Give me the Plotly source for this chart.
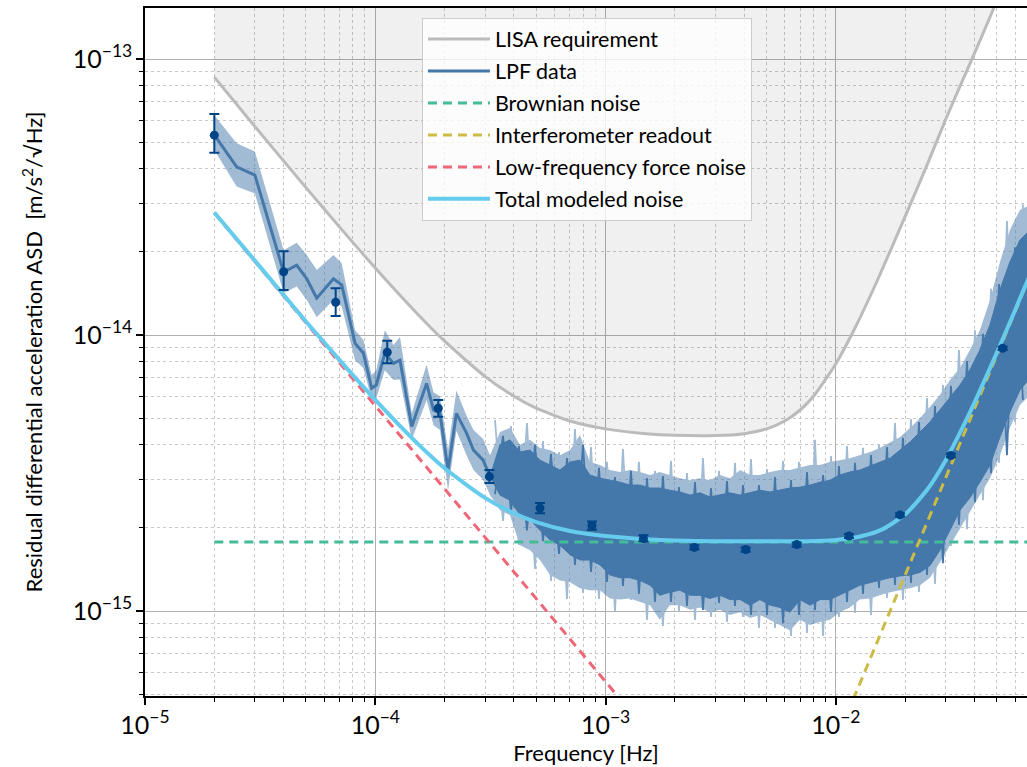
import plotly.graph_objects as go

U = 1e-15  # values below are given in units of 1e-15 m s^-2 Hz^-1/2

# ---------------- LISA requirement ----------------
lisa_f = [2e-5, 3e-5, 5e-5, 7e-5, 1e-4, 1.5e-4, 2e-4, 3e-4, 4e-4, 5e-4, 7e-4, 1e-3, 1.5e-3,
          2e-3, 3e-3, 4e-3, 5e-3, 6e-3, 7e-3, 8e-3, 1e-2, 1.2e-2, 1.5e-2, 2e-2, 2.5e-2,
          3e-2, 3.5e-2, 4e-2, 4.5e-2, 5e-2, 5.5e-2]
lisa_asd = [86.0, 57.0, 34.2, 24.6, 17.5, 12.1, 9.5, 7.07, 6.0, 5.43, 4.88, 4.57, 4.39,
            4.33, 4.32, 4.39, 4.57, 4.88, 5.35, 6.0, 7.87, 10.45, 15.5, 26.9, 41.7,
            60.5, 81.4, 105.0, 132.0, 163.0, 200.0]

# ---------------- LPF data, low-frequency part ----------------
low_f = [2.0e-5, 2.5e-5, 3.0e-5, 4.0e-5, 4.56e-5, 5.04e-5, 5.57e-5, 6.58e-5, 7.15e-5,
         8.17e-5, 8.88e-5, 9.65e-5, 1.01e-4, 1.10e-4, 1.20e-4, 1.28e-4, 1.44e-4, 1.67e-4,
         1.79e-4, 1.91e-4, 2.07e-4, 2.25e-4, 2.49e-4, 2.67e-4, 2.94e-4, 3.15e-4]
low_asd = [53.1, 40.7, 38.0, 16.9, 17.9, 16.0, 13.6, 16.0, 15.2, 9.33, 8.59, 6.41, 6.59,
           8.59, 7.89, 8.11, 4.66, 6.68, 5.35, 5.20, 3.24, 5.20, 4.41, 3.83, 3.52, 3.07]
low_up = [62.6, 49.5, 46.2, 20.3, 21.6, 19.5, 17.2, 19.5, 18.2, 10.4, 9.6, 7.16, 7.46,
          10.4, 9.2, 9.84, 5.21, 7.8, 6.21, 6.0, 3.83, 6.3, 5.1, 4.53, 4.2, 3.67]
low_dn = [46.8, 34.5, 32.6, 14.2, 15.0, 13.4, 11.6, 13.4, 12.7, 8.11, 7.59, 5.81, 5.9,
          7.46, 6.87, 6.9, 4.17, 5.81, 4.71, 4.53, 2.74, 4.5, 3.67, 3.24, 2.99, 2.63]

# ---------------- LPF data, dense high-frequency part (envelopes) ----------------
mid_f = [3.48e-4, 3.84e-4, 4.25e-4, 4.70e-4, 5.19e-4, 5.74e-4, 6.34e-4, 7.01e-4, 7.74e-4,
         8.55e-4, 9.45e-4, 1.045e-3, 1.155e-3, 1.276e-3, 1.41e-3, 1.56e-3, 1.72e-3, 1.90e-3,
         2.10e-3, 2.33e-3, 2.57e-3, 2.84e-3, 3.14e-3, 3.47e-3, 3.84e-3, 4.24e-3, 4.68e-3,
         5.18e-3, 5.72e-3, 6.32e-3, 6.98e-3, 7.72e-3, 8.53e-3, 9.42e-3, 1.04e-2, 1.15e-2,
         1.27e-2, 1.41e-2, 1.55e-2, 1.72e-2, 1.90e-2, 2.10e-2, 2.32e-2, 2.56e-2, 2.83e-2,
         3.13e-2, 3.46e-2, 3.82e-2, 4.22e-2, 4.67e-2, 5.16e-2, 5.70e-2, 6.30e-2, 6.96e-2]
dark_hi = [4.00, 4.17, 3.77, 3.83, 3.52, 3.38, 3.24, 3.47, 3.52, 3.11, 3.03, 2.98, 2.93, 2.86,
           2.86, 2.79, 2.79, 2.74, 2.70, 2.63, 2.68, 2.59, 2.63, 2.68, 2.63, 2.68, 2.74, 2.70,
           2.74, 2.79, 2.81, 2.86, 2.93, 2.98, 3.11, 3.19, 3.24, 3.35, 3.47, 3.58, 3.83, 4.10,
           4.45, 4.84, 5.35, 5.96, 6.59, 7.47, 8.83, 10.9, 14.6, 18.4, 22.1, 24.0]
dark_lo = [2.63, 2.52, 2.23, 2.14, 1.96, 1.81, 1.73, 1.60, 1.53, 1.53, 1.47, 1.35, 1.32, 1.32,
           1.29, 1.24, 1.14, 1.17, 1.19, 1.14, 1.14, 1.11, 1.14, 1.10, 1.10, 1.05, 1.10, 1.05,
           1.03, 0.99, 1.10, 1.05, 1.10, 1.10, 1.14, 1.19, 1.24, 1.27, 1.29, 1.32, 1.34, 1.35,
           1.38, 1.46, 1.66, 1.96, 2.32, 2.57, 2.93, 3.38, 4.27, 5.26, 6.32, 6.99]
light_hi = [4.45, 4.60, 4.00, 4.17, 3.90, 3.83, 3.67, 3.83, 4.34, 3.47, 3.38, 3.24, 3.19, 3.24,
            3.19, 3.11, 3.19, 3.11, 3.03, 2.98, 3.03, 2.98, 3.11, 3.03, 3.24, 3.11, 3.11, 3.19,
            3.24, 3.24, 3.30, 3.38, 3.38, 3.47, 3.52, 3.58, 3.67, 3.77, 3.90, 4.10, 4.27, 4.60,
            5.00, 5.48, 6.06, 6.87, 7.59, 8.83, 10.4, 13.4, 18.4, 24.0, 28.4, 29.6]
light_lo = [2.32, 2.23, 1.73, 1.66, 1.53, 1.35, 1.29, 1.27, 1.21, 1.19, 1.19, 1.11, 1.10, 1.11,
            1.08, 1.05, 0.93, 1.05, 1.05, 1.01, 1.03, 0.99, 1.01, 0.967, 0.99, 0.943, 0.967,
            0.93, 0.89, 0.85, 0.93, 0.89, 0.912, 0.93, 0.99, 1.03, 1.10, 1.11, 1.14, 1.17, 1.19,
            1.21, 1.24, 1.32, 1.50, 1.73, 2.00, 2.28, 2.63, 3.03, 3.67, 4.60, 5.58, 6.06]

# individual spikes of the dense spectrum (alternating peaks and dips)
spk_f = [3.31e-4, 3.585e-4, 3.884e-4, 4.207e-4, 4.557e-4, 4.937e-4, 5.348e-4, 5.793e-4,
         6.276e-4, 6.799e-4, 7.365e-4, 7.978e-4, 8.643e-4, 9.362e-4, 1.014e-3, 1.099e-3,
         1.190e-3, 1.289e-3, 1.396e-3, 1.513e-3, 1.639e-3, 1.775e-3, 1.923e-3, 2.083e-3,
         2.257e-3, 2.445e-3, 2.648e-3, 2.869e-3, 3.108e-3, 3.367e-3, 3.647e-3, 3.951e-3,
         4.280e-3, 4.636e-3, 5.023e-3, 5.441e-3, 5.894e-3, 6.385e-3, 6.917e-3, 7.493e-3,
         8.117e-3, 8.793e-3, 9.525e-3, 1.0316e-2, 1.1177e-2, 1.2106e-2, 1.3115e-2, 1.4208e-2,
         1.539e-2, 1.667e-2, 1.806e-2, 1.956e-2, 2.119e-2, 2.296e-2, 2.487e-2, 2.694e-2,
         2.918e-2, 3.161e-2, 3.424e-2, 3.710e-2, 4.019e-2, 4.354e-2, 4.716e-2, 5.109e-2,
         5.534e-2, 5.995e-2, 6.494e-2]
spk_light = [4.92, 2.12, 4.68, 1.735, 4.80, 1.42, 4.13, 1.285, 3.77, 1.105, 4.56, 1.162, 3.93,
             1.105, 3.47, 1.00, 3.86, 1.096, 3.47, 0.928, 3.22, 0.882, 3.50, 0.992, 3.16,
             0.928, 3.58, 0.951, 3.22, 0.912, 3.44, 0.951, 3.55, 0.868, 3.27, 0.868, 3.50,
             0.812, 3.47, 0.832, 4.17, 0.812, 3.64, 0.951, 3.96, 0.983, 3.90, 0.967, 4.00,
             1.115, 4.80, 1.096, 4.96, 1.172, 5.91, 1.252, 6.59, 1.72, 8.83, 1.98, 10.4, 2.52,
             14.7, 3.44, 25.9, 4.84, 29.8]
spk_dark = [2.65, 4.31, 2.30, 3.96, 1.96, 4.00, 1.79, 3.71, 1.61, 3.58, 1.47, 4.00, 1.385,
            3.30, 1.274, 3.06, 1.232, 3.22, 1.152, 3.03, 1.078, 3.08, 1.078, 2.81, 1.043, 2.93,
            1.008, 2.79, 1.069, 2.96, 1.043, 2.86, 0.967, 2.86, 0.967, 3.06, 0.905, 2.98,
            0.967, 3.19, 1.008, 3.11, 0.992, 3.35, 1.078, 3.44, 1.152, 3.67, 1.211, 3.93,
            1.242, 4.24, 1.263, 4.84, 1.35, 5.53, 1.49, 6.54, 2.05, 8.05, 2.48, 10.1, 3.16,
            15.3, 3.67, 20.8, 5.81]

# ---------------- binned points with error bars ----------------
eb_f = [2.0e-5, 4.0e-5, 6.73e-5, 1.127e-4, 1.877e-4, 3.13e-4, 5.19e-4, 8.73e-4, 1.46e-3,
        2.43e-3, 4.06e-3, 6.76e-3, 1.14e-2, 1.90e-2, 3.16e-2, 5.30e-2]
eb_asd = [53.0, 16.96, 13.14, 8.66, 5.43, 3.07, 2.36, 2.04, 1.83, 1.70, 1.67, 1.74, 1.87,
          2.23, 3.66, 8.95]
eb_hi = [63.2, 20.1, 14.77, 9.54, 5.81, 3.24, 2.46, 2.11, 1.88, 1.73, 1.70, 1.77, 1.90,
         2.26, 3.71, 9.07]
eb_lo = [45.8, 14.56, 11.72, 7.90, 5.06, 2.91, 2.26, 1.97, 1.79, 1.67, 1.64, 1.71, 1.84,
         2.20, 3.61, 8.83]

# ---------------- noise model ----------------
brown_f = [2e-5, 7e-2]
brown_asd = [1.78, 1.78]
readout_f = [1.0e-2, 7e-2]
readout_asd = [0.338, 16.55]
lff_f = [2e-5, 1.2e-3]
lff_asd = [27.7, 0.462]
model_f = [2e-5, 3e-5, 5e-5, 7e-5, 1e-4, 1.5e-4, 2e-4, 3e-4, 4e-4, 5e-4, 7e-4, 1e-3, 1.5e-3,
           2e-3, 3e-3, 5e-3, 7e-3, 1e-2, 1.3e-2, 1.6e-2, 2e-2, 2.5e-2, 3e-2, 3.5e-2, 4e-2,
           5e-2, 6e-2, 7e-2]
model_asd = [27.8, 18.6, 11.2, 8.11, 5.82, 4.10, 3.29, 2.57, 2.26, 2.10, 1.95, 1.87, 1.82,
             1.80, 1.79, 1.79, 1.79, 1.81, 1.87, 1.98, 2.24, 2.76, 3.52, 4.51, 5.69, 8.63,
             12.3, 16.7]

# ---------------- styles ----------------
FONT = "Lato"
C_LISA = "#BBBBBB"
C_LPF = "#4477AA"
C_LPF_BAND = "rgba(68,119,170,0.5)"
C_LPF_BAND_OPAQUE = "#A2BBD5"
C_BROWN = "#44BB99"
C_READ = "#CCBB44"
C_LFF = "#EE6677"
C_TOTAL = "#66CCEE"
C_PTS = "#004488"
TOP = 1e-11
DASH = "9px,6px"


def s(v):
    return [a * U for a in v]


fig = go.Figure()

# shaded region above the LISA requirement
fig.add_trace(go.Scatter(
    x=lisa_f + [lisa_f[-1], lisa_f[0]], y=s(lisa_asd) + [TOP, TOP],
    fill="toself", fillcolor="rgba(0,0,0,0.06)", line=dict(width=0),
    mode="lines", showlegend=False, hoverinfo="skip"))
fig.add_trace(go.Scatter(
    x=lisa_f, y=s(lisa_asd), mode="lines", name="LISA requirement",
    line=dict(color=C_LISA, width=3, shape="spline", smoothing=0.6), legendgroup="a"))

# light band (low-frequency band + high-frequency envelope)
band_f = low_f + mid_f
band_hi = low_up + light_hi
band_lo = low_dn + light_lo
fig.add_trace(go.Scatter(
    x=band_f + band_f[::-1], y=s(band_hi) + s(band_lo[::-1]),
    fill="toself", fillcolor=C_LPF_BAND, line=dict(width=0),
    mode="lines", showlegend=False, hoverinfo="skip"))
fig.add_trace(go.Scatter(
    x=spk_f, y=s(spk_light), mode="lines", showlegend=False, hoverinfo="skip",
    line=dict(color=C_LPF_BAND_OPAQUE, width=1.8)))
fig.add_trace(go.Scatter(
    x=spk_f, y=s(spk_dark), mode="lines", showlegend=False, hoverinfo="skip",
    line=dict(color=C_LPF, width=1.8)))
# dense dark region of the data
dk_f = [low_f[-1]] + mid_f
dk_hi = [low_asd[-1]] + dark_hi
dk_lo = [low_asd[-1]] + dark_lo
fig.add_trace(go.Scatter(
    x=dk_f + dk_f[::-1], y=s(dk_hi) + s(dk_lo[::-1]),
    fill="toself", fillcolor=C_LPF, line=dict(width=1, color=C_LPF),
    mode="lines", showlegend=False, hoverinfo="skip"))
fig.add_trace(go.Scatter(
    x=low_f, y=s(low_asd), mode="lines", name="LPF data",
    line=dict(color=C_LPF, width=3), legendgroup="b"))

fig.add_trace(go.Scatter(
    x=brown_f, y=s(brown_asd), mode="lines", name="Brownian noise",
    line=dict(color=C_BROWN, width=3, dash=DASH), legendgroup="c"))
fig.add_trace(go.Scatter(
    x=readout_f, y=s(readout_asd), mode="lines", name="Interferometer readout",
    line=dict(color=C_READ, width=3, dash=DASH), legendgroup="d"))
fig.add_trace(go.Scatter(
    x=lff_f, y=s(lff_asd), mode="lines", name="Low-frequency force noise",
    line=dict(color=C_LFF, width=3, dash=DASH), legendgroup="e"))
fig.add_trace(go.Scatter(
    x=model_f, y=s(model_asd), mode="lines", name="Total modeled noise",
    line=dict(color=C_TOTAL, width=4, shape="spline", smoothing=0.6), legendgroup="f"))

fig.add_trace(go.Scatter(
    x=eb_f, y=s(eb_asd), mode="markers", showlegend=False,
    marker=dict(color=C_PTS, size=9),
    error_y=dict(type="data", symmetric=False,
                 array=[(h - m) * U for h, m in zip(eb_hi, eb_asd)],
                 arrayminus=[(m - l) * U for m, l in zip(eb_asd, eb_lo)],
                 color=C_PTS, thickness=2, width=5)))

axis_common = dict(
    type="log", showline=True, linecolor="black", linewidth=1.5,
    ticks="outside", ticklen=7, tickwidth=1.5, tickcolor="black", dtick=1,
    exponentformat="power", showgrid=True, gridcolor="#b0b0b0", gridwidth=1.3,
    zeroline=False, tickfont=dict(family=FONT, size=20, color="black"),
    minor=dict(ticks="outside", ticklen=4, tickwidth=1, tickcolor="black",
               showgrid=True, gridcolor="#c8c8c8", griddash="dot", gridwidth=1),
)

fig.update_layout(
    width=1027, height=767,
    margin=dict(l=145, r=0, t=8, b=71),
    paper_bgcolor="white", plot_bgcolor="white",
    font=dict(family=FONT, size=20, color="black"),
    xaxis=dict(axis_common, range=[-5, -1.170], mirror=True,
               title=dict(text="Frequency [Hz]", font=dict(family=FONT, size=22), standoff=2)),
    yaxis=dict(axis_common, range=[-15.308, -12.815], mirror=False,
               title=dict(text="Residual differential acceleration ASD  [m/s<sup>2</sup>/√Hz]",
                          font=dict(family=FONT, size=22), standoff=24)),
    legend=dict(x=0.314, y=0.986, xanchor="left", yanchor="top",
                bgcolor="rgba(255,255,255,0.8)", bordercolor="#cccccc", borderwidth=1,
                font=dict(family=FONT, size=21.5), tracegroupgap=1, itemwidth=62),
    showlegend=True,
)

fig.write_html("out.html")
